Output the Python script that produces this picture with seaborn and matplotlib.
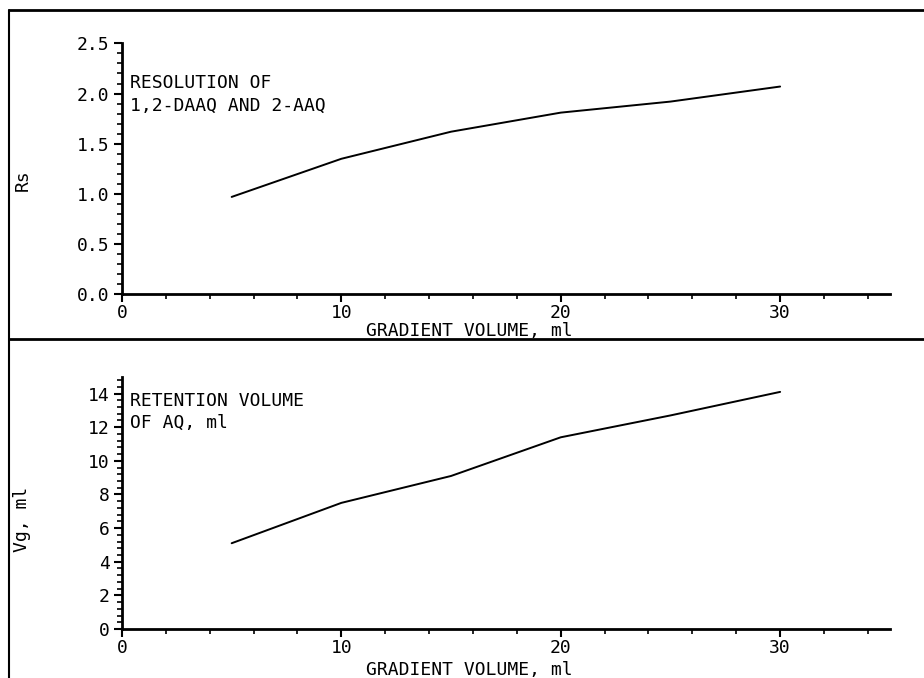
import numpy as np
import pandas as pd
import matplotlib
matplotlib.use("Agg")
import matplotlib.pyplot as plt
from matplotlib.lines import Line2D
from matplotlib.ticker import MultipleLocator
import seaborn as sns

# datos
gradient_vol = [5, 10, 15, 20, 25, 30]
rs_values = [0.97, 1.35, 1.62, 1.81, 1.92, 2.07]
vg_values = [5.1, 7.5, 9.1, 11.4, 12.7, 14.1]

x_label = "GRADIENT VOLUME, ml"
top_note = "RESOLUTION OF\n1,2-DAAQ AND 2-AAQ"
bottom_note = "RETENTION VOLUME\nOF AQ, ml"

sns.set_style("ticks")
plt.rcParams["font.family"] = ["DejaVu Sans Mono", "DejaVu Sans"]
plt.rcParams["font.size"] = 13
plt.rcParams["text.color"] = "black"
plt.rcParams["axes.labelcolor"] = "black"
plt.rcParams["xtick.color"] = "black"
plt.rcParams["ytick.color"] = "black"
plt.rcParams["axes.edgecolor"] = "black"

df = pd.DataFrame({"vol": gradient_vol, "rs": rs_values, "vg": vg_values})

fig = plt.figure(figsize=(9.24, 6.78), dpi=100)
ax1 = fig.add_axes([0.132, 0.566, 0.831, 0.370])
ax2 = fig.add_axes([0.132, 0.0723, 0.831, 0.372])

sns.lineplot(data=df, x="vol", y="rs", ax=ax1, color="black", linewidth=1.4)
sns.lineplot(data=df, x="vol", y="vg", ax=ax2, color="black", linewidth=1.4)

# ejes
for ax, ymax, ymaj, ymin in [(ax1, 2.5, 0.5, 0.1), (ax2, 15, 2, 0.4)]:
    ax.set_xlim(0, 35)
    ax.set_ylim(0, ymax)
    ax.xaxis.set_major_locator(MultipleLocator(10))
    ax.xaxis.set_minor_locator(MultipleLocator(2))
    ax.yaxis.set_major_locator(MultipleLocator(ymaj))
    ax.yaxis.set_minor_locator(MultipleLocator(ymin))
    for s in ["top", "right"]:
        ax.spines[s].set_visible(False)
    for s in ["left", "bottom"]:
        ax.spines[s].set_linewidth(2)
    ax.tick_params(which="major", direction="out", length=6, width=1.5,
                   labelsize=13, pad=3)
    ax.tick_params(axis="x", which="major", pad=1)
    ax.tick_params(which="minor", direction="out", length=3.5, width=1.2)
    ax.set_facecolor("white")

ax1.yaxis.set_major_formatter(plt.FuncFormatter(lambda v, p: f"{v:.1f}"))
ax2.set_yticks([0, 2, 4, 6, 8, 10, 12, 14])

ax1.set_xlabel(x_label, fontsize=13)
ax2.set_xlabel(x_label, fontsize=13)
ax1.xaxis.set_label_coords(0.453, -0.112)
ax2.xaxis.set_label_coords(0.453, -0.128)

ax1.set_ylabel("Rs", fontsize=13)
ax2.set_ylabel("Vg, ml", fontsize=13)
ax1.yaxis.set_label_coords(-0.118, 0.454)
ax2.yaxis.set_label_coords(-0.118, 0.433)

ax1.text(0.35, 2.19, top_note, va="top", ha="left", fontsize=13, linespacing=1.3)
ax2.text(0.35, 14.1, bottom_note, va="top", ha="left", fontsize=13, linespacing=1.3)

# marco exterior
fig.add_artist(Line2D([0.01, 0.01], [0.0, 0.985], transform=fig.transFigure,
                      color="black", linewidth=1.5))
fig.add_artist(Line2D([0.01, 1.0], [0.985, 0.985], transform=fig.transFigure,
                      color="black", linewidth=2))
fig.add_artist(Line2D([0.01, 1.0], [0.5, 0.5], transform=fig.transFigure,
                      color="black", linewidth=2))

fig.savefig("out.png", dpi=100, facecolor="white")
